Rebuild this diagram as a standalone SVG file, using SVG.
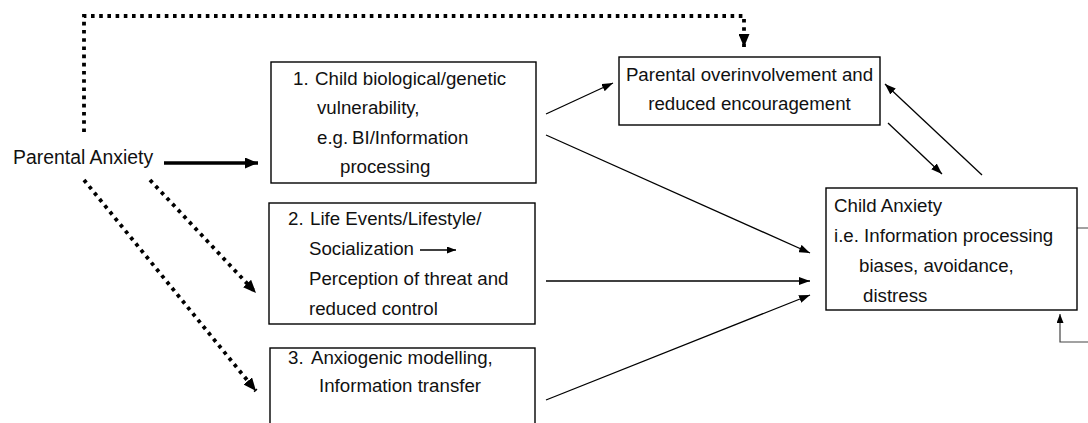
<svg xmlns="http://www.w3.org/2000/svg" width="1088" height="423" viewBox="0 0 1088 423">
  <style>
    text { font-family: "Liberation Sans", Arial, sans-serif; font-size: 18.7px; fill: #111; }
    .box { fill: #fff; stroke: #000; stroke-width: 1.4; }
    .thin { fill: none; stroke: #000; stroke-width: 1.3; }
    .thick { fill: none; stroke: #000; stroke-width: 3.6; }
    .dot { fill: none; stroke: #000; stroke-width: 3.8; stroke-dasharray: 3.6 4.6; }
    .fb { fill: none; stroke: #444; stroke-width: 1.2; }
  </style>
  <defs>
    <marker id="ah" markerUnits="userSpaceOnUse" markerWidth="11" markerHeight="8" refX="11" refY="4" orient="auto">
      <path d="M0,0 L11,4 L0,8 z" fill="#000"/>
    </marker>
    <marker id="ahBig" markerUnits="userSpaceOnUse" markerWidth="13" markerHeight="11" refX="13" refY="5.5" orient="auto">
      <path d="M0,0 L13,5.5 L0,11 z" fill="#000"/>
    </marker>
    <marker id="ahSmall" markerUnits="userSpaceOnUse" markerWidth="9" markerHeight="7" refX="9" refY="3.5" orient="auto">
      <path d="M0,0 L9,3.5 L0,7 z" fill="#000"/>
    </marker>
  </defs>

  <g id="connectors">
    <path class="dot" d="M84,132 V16 H744 V47" marker-end="url(#ahBig)"/>
    <path class="dot" d="M84,180 L256,391" marker-end="url(#ahBig)"/>
    <path class="dot" d="M150,180 L256,293" marker-end="url(#ahBig)"/>
    <path class="thick" d="M164,163 H258" marker-end="url(#ahBig)"/>
    <path class="thin" d="M546,114 L613,83" marker-end="url(#ah)"/>
    <path class="thin" d="M546,135 L810,253" marker-end="url(#ah)"/>
    <path class="thin" d="M546,281 H810" marker-end="url(#ah)"/>
    <path class="thin" d="M546,400 L810,295" marker-end="url(#ah)"/>
    <path class="thin" d="M888,123 L942,174" marker-end="url(#ah)"/>
    <path class="thin" d="M982,175 L885,84" marker-end="url(#ah)"/>
    <path class="fb" d="M1077,228 H1094 V342 H1060 V314" marker-end="url(#ahSmall)"/>
  </g>

  <g id="parental-anxiety">
    <text x="13" y="164" style="font-size:19.4px">Parental Anxiety</text>
  </g>

  <g id="box1">
    <rect class="box" x="271" y="62" width="265" height="121"/>
    <text y="85"><tspan x="293">1.</tspan><tspan x="315">Child biological/genetic</tspan></text>
    <text x="317" y="114">vulnerability,</text>
    <text y="144"><tspan x="317">e.g.</tspan><tspan x="352">BI/Information</tspan></text>
    <text x="340" y="173">processing</text>
  </g>

  <g id="box2">
    <rect class="box" x="269" y="203" width="266" height="121"/>
    <text y="225"><tspan x="288">2.</tspan><tspan x="310">Life Events/Lifestyle/</tspan></text>
    <text x="309" y="255">Socialization</text>
    <path class="thin" d="M420,250 H456" marker-end="url(#ahSmall)"/>
    <text x="309" y="285">Perception of threat and</text>
    <text x="309" y="315">reduced control</text>
  </g>

  <g id="box3">
    <rect class="box" x="270" y="348" width="265" height="90"/>
    <text y="364"><tspan x="288">3.</tspan><tspan x="311">Anxiogenic modelling,</tspan></text>
    <text x="319" y="392">Information transfer</text>
  </g>

  <g id="parental-overinvolvement">
    <rect class="box" x="619" y="57" width="261" height="68"/>
    <text x="749.5" y="81" text-anchor="middle">Parental overinvolvement and</text>
    <text x="749.5" y="110" text-anchor="middle">reduced encouragement</text>
  </g>

  <g id="child-anxiety">
    <rect class="box" x="826" y="188" width="251" height="122"/>
    <text x="834" y="212">Child Anxiety</text>
    <text x="834" y="242">i.e. Information processing</text>
    <text x="859" y="272">biases, avoidance,</text>
    <text x="863" y="302">distress</text>
  </g>
</svg>
